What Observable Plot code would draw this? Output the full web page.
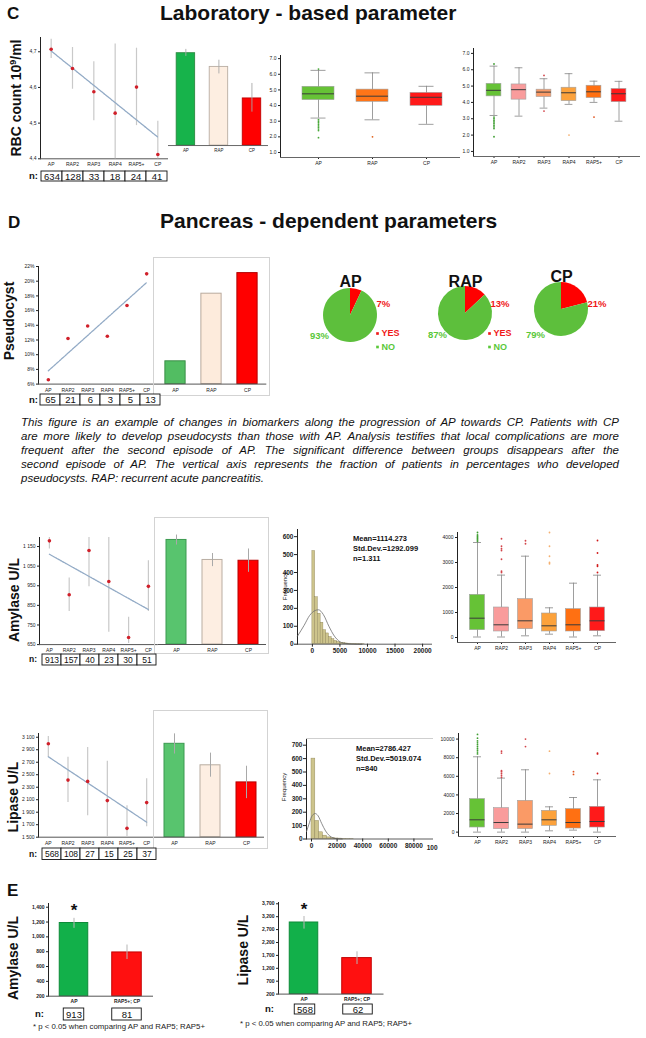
<!DOCTYPE html>
<html>
<head>
<meta charset="utf-8">
<script src="https://cdn.jsdelivr.net/npm/d3@7"></script>
<script src="https://cdn.jsdelivr.net/npm/@observablehq/plot@0.6"></script>
<style>
  html, body { margin: 0; padding: 0; background: #fff; }
  #root { position: relative; width: 646px; height: 1038px; overflow: hidden; background: #fff;
          font-family: "Liberation Sans", Arial, Helvetica, sans-serif; }
  #caption { position: absolute; left: 21px; top: 415px; width: 598px; font-style: italic;
             font-size: 11.5px; line-height: 14px; color: #111; }
  #caption div { text-align: justify; text-align-last: justify; white-space: nowrap; }
  #caption div:last-child { text-align-last: left; }
</style>
</head>
<body>
<div id="root"><div id="caption"></div></div>
<script>
// ================= DATA =================
const stages = ["AP", "RAP2", "RAP3", "RAP4", "RAP5+", "CP"];
const groups = ["AP", "RAP", "CP"];

// C: RBC count
const rbcMean = [4.707, 4.653, 4.588, 4.528, 4.601, 4.412];
const rbcLow  = [4.681, 4.595, 4.507, 4.400, 4.493, 4.400];
const rbcHigh = [4.735, 4.712, 4.672, 4.722, 4.710, 4.505];
const rbcN = [634, 128, 33, 18, 24, 41];
const rbcGroupMean = [4.690, 4.647, 4.548];
const rbcGroupLow  = [4.680, 4.625, 4.505];
const rbcGroupHigh = [4.702, 4.668, 4.595];
const rbcDomain = [4.4, 4.74];
const rbcTicks = [4.4, 4.5, 4.6, 4.7];
// box plots: [lower whisker, Q1, median, Q3, upper whisker]
const rbcGroupBox = [[3.20, 4.35, 4.75, 5.20, 6.25], [3.09, 4.24, 4.60, 5.02, 6.09], [2.80, 3.98, 4.53, 4.81, 5.23]];
const rbcGroupOutliers = [["AP", 6.33], ["AP", 3.1], ["AP", 3.0], ["AP", 2.9], ["AP", 2.8], ["AP", 2.7], ["AP", 2.6], ["AP", 2.5], ["AP", 2.4], ["AP", 1.95], ["RAP", 2.0]];
const rbcStageBox = [[3.20, 4.37, 4.74, 5.14, 6.22], [3.16, 4.17, 4.78, 5.10, 6.12], [3.65, 4.33, 4.63, 4.78, 5.45],
                     [3.88, 4.08, 4.59, 4.90, 5.76], [4.00, 4.27, 4.65, 5.02, 5.30], [2.85, 4.02, 4.53, 4.82, 5.29]];
const rbcStageOutliers = [["AP", 6.35], ["AP", 3.1], ["AP", 3.0], ["AP", 2.9], ["AP", 2.8], ["AP", 2.7], ["AP", 2.6], ["AP", 2.5], ["AP", 2.4], ["AP", 1.9],
                          ["RAP3", 5.65], ["RAP3", 3.47], ["RAP4", 2.0], ["RAP5+", 3.1]];
const rbcBoxTicks = [1, 2, 3, 4, 5, 6, 7];

// D: pseudocyst (%)
const pcPct = [6.6, 12.2, 13.9, 12.5, 16.7, 21.0];
const pcN = [65, 21, 6, 3, 5, 13];
const pcGroupPct = [9.1, 18.3, 21.1];
const pcDomain = [6, 22];
const pcTicks = [6, 8, 10, 12, 14, 16, 18, 20, 22];
const pieYes = [7, 13, 21];

// Amylase U/L
const amyMean = [1179, 904, 1130, 972, 686, 947];
const amyLow  = [1138, 819, 945, 713, 655, 819];
const amyHigh = [1196, 989, 1196, 1196, 789, 1077];
const amyN = [913, 157, 40, 23, 30, 51];
const amyGroupMean = [1183, 1081, 1077];
const amyGroupLow  = [1157, 1047, 1018];
const amyGroupHigh = [1208, 1114, 1137];
const amyDomain = [650, 1196];
const amyTicks = [650, 750, 850, 950, 1050, 1150];
const amyHistBin = 500;
const amyHistCounts = [520, 262, 170, 120, 78, 60, 40, 28, 18, 12, 8, 6, 4, 3, 2, 2, 1, 1, 1];
const amyFitX = [-2700, -1500, -500, 500, 1100, 2000, 3000, 4000, 5000, 6000, 7500, 9000];
const amyFitY = [45, 105, 160, 188, 192, 165, 100, 45, 14, 4, 1, 0];
const amyHistTicksX = [0, 5000, 10000, 15000, 20000];
const amyHistTicksY = [0, 100, 200, 300, 400, 500, 600];
const amyStageBox = [[20, 293, 773, 1708, 3800], [20, 240, 508, 1200, 2496], [67, 333, 667, 1535, 3253],
                     [133, 240, 467, 960, 1188], [20, 240, 508, 1133, 2173], [67, 253, 667, 1200, 2493]];
const amyStageOutliers = [["AP", 3850], ["AP", 3900], ["AP", 3950], ["AP", 4000], ["AP", 4050], ["AP", 4100], ["AP", 4200],
                          ["RAP2", 2600], ["RAP2", 2650], ["RAP2", 3130], ["RAP2", 3480], ["RAP2", 3550], ["RAP2", 3650], ["RAP2", 3950],
                          ["RAP3", 3750], ["RAP3", 3870],
                          ["RAP4", 2950], ["RAP4", 3000], ["RAP4", 3250], ["RAP4", 3650], ["RAP4", 4200],
                          ["CP", 2600], ["CP", 2850], ["CP", 2900], ["CP", 3380], ["CP", 3880]];
const amyBoxTicks = [0, 1000, 2000, 3000, 4000];

// Lipase U/L
const lipMean = [2995, 2414, 2393, 2086, 1642, 2054];
const lipLow  = [2780, 2054, 1843, 1500, 1500, 1669];
const lipHigh = [3110, 2780, 2937, 2715, 2002, 2435];
const lipN = [568, 108, 27, 15, 25, 37];
const lipGroupMean = [2995, 2651, 2377];
const lipGroupLow  = [2831, 2461, 2117];
const lipGroupHigh = [3154, 2846, 2636];
const lipDomain = [1500, 3160];
const lipTicks = [1500, 1700, 1900, 2100, 2300, 2500, 2700, 2900, 3100];
const lipHistBin = 3000;
const lipHistCounts = [600, 135, 50, 25, 12, 7, 4, 3, 2, 1, 1];
const lipFitX = [-3900, -2000, 0, 2800, 5000, 8000, 11000, 14000, 17000, 20000, 24000];
const lipFitY = [55, 110, 165, 190, 175, 115, 60, 25, 8, 2, 0];
const lipHistTicksX = [0, 20000, 40000, 60000, 80000, 100000];
const lipHistTickLabels = ["0", "20000", "40000", "60000", "80000", "100"];
const lipHistTicksY = [0, 100, 200, 300, 400, 500, 600, 700];
const lipStageBox = [[0, 495, 1323, 3548, 8097], [0, 323, 1032, 2580, 5806], [0, 323, 860, 3366, 6699],
                     [140, 677, 1323, 2290, 2720], [215, 387, 1032, 2473, 3720], [0, 495, 1140, 2720, 5624]];
const lipStageOutliers = [["AP", 8400], ["AP", 8600], ["AP", 8800], ["AP", 9000], ["AP", 9200], ["AP", 9400], ["AP", 9600], ["AP", 9800], ["AP", 10100], ["AP", 10500],
                          ["RAP2", 5900], ["RAP2", 6100], ["RAP2", 6300], ["RAP2", 6500], ["RAP2", 6600], ["RAP2", 8500], ["RAP2", 8700],
                          ["RAP3", 9200], ["RAP3", 10000], ["RAP4", 6300], ["RAP4", 8700],
                          ["RAP5+", 6200], ["RAP5+", 6500], ["CP", 6300], ["CP", 8400], ["CP", 8500]];
const lipBoxTicks = [0, 2000, 4000, 6000, 8000, 10000];

// E
const eGroups = ["AP", "RAP5+; CP"];
const eAmyMean = [1187, 790];
const eAmyLow = [1115, 695];
const eAmyHigh = [1250, 890];
const eAmyN = [913, 81];
const eAmyTicks = [200, 400, 600, 800, 1000, 1200, 1400];
const eLipMean = [2975, 1595];
const eLipLow = [2719, 1347];
const eLipHigh = [3207, 1839];
const eLipN = [568, 62];
const eLipTicks = [200, 700, 1200, 1700, 2200, 2700, 3200, 3700];
const eSignificant = ["AP"];

const captionLines = [
  "This figure is an example of changes in biomarkers along the progression of AP towards CP. Patients with CP",
  "are more likely to develop pseudocysts than those with AP. Analysis testifies that local complications are more",
  "frequent after the second episode of AP. The significant difference between groups disappears after the",
  "second episode of AP. The vertical axis represents the fraction of patients in percentages who developed",
  "pseudocysts. RAP: recurrent acute pancreatitis."
];

// ================= STYLE =================
const FONT = '"Liberation Sans", Arial, Helvetica, sans-serif';
const stageFill = {AP: "#66c236", RAP2: "#f99c9c", RAP3: "#fa9a66", RAP4: "#fca23c", "RAP5+": "#ff7012", CP: "#ff1a1a"};
const stageOut = {AP: "#3f9e32", RAP2: "#d2444a", RAP3: "#d2444a", RAP4: "#f5b070", "RAP5+": "#e0501a", CP: "#d01818"};
const groupBoxFill = {AP: "#66c236", RAP: "#ff7518", CP: "#ff1a1a"};
const groupBoxOut = {AP: "#4aa83a", RAP: "#e06018", CP: "#d01818"};
const RED = "#ff0000", GREEN = "#5dbf3c";

const root = document.getElementById("root");

function place(node, left, top, clipW) {
  node.style.position = "absolute";
  if (clipW != null) {
    const wrap = document.createElement("div");
    wrap.style.cssText = `position:absolute;left:${left}px;top:${top}px;width:${clipW}px;height:${node.getAttribute("height")}px;overflow:hidden`;
    node.style.left = "0px"; node.style.top = "0px";
    wrap.appendChild(node); root.appendChild(wrap);
  } else {
    node.style.left = left + "px"; node.style.top = top + "px";
    root.appendChild(node);
  }
  return node;
}

// f = [x0, x1, y0, y1] plot frame in page pixels; pad = margins around it
function framed(f, pad, opts, extra = {}) {
  const [x0, x1, y0, y1] = f;
  const left = x0 - pad.l, top = y0 - pad.t;
  const width = Math.ceil(x1 - x0 + pad.l + pad.r);
  const height = Math.ceil(y1 - y0 + pad.t + pad.b);
  const {xr, style = {}, ...rest} = opts;
  const o = {
    width, height,
    marginLeft: pad.l, marginTop: pad.t,
    marginRight: width - pad.l - (x1 - x0),
    marginBottom: height - pad.t - (y1 - y0),
    color: {type: "identity"},
    ...rest,
    style: {fontFamily: FONT, fontSize: "5px", color: "#222", background: "transparent", overflow: "visible", ...style}
  };
  if (xr) o.x = {...o.x, range: xr.map(v => v - left)};
  const svg = Plot.plot(o);
  if (extra.outline) { svg.style.outline = "1px solid #d3d3d3"; svg.style.outlineOffset = "-1px"; }
  return place(svg, left, top, extra.clipRight != null ? extra.clipRight - left : null);
}

function trendChart(f, pad, vals, lo, hi, yOpt) {
  const rows = stages.map((s, i) => ({i, v: vals[i], lo: lo ? lo[i] : null, hi: hi ? hi[i] : null}));
  const marks = [Plot.ruleY([yOpt.domain[0]], {stroke: "#555", strokeWidth: 1})];
  if (lo) marks.push(Plot.ruleX(rows, {x: "i", y1: "lo", y2: "hi", stroke: "#c9c9c9", strokeWidth: 1.2}));
  marks.push(Plot.linearRegressionY(rows, {x: "i", y: "v", ci: 0, stroke: "#93abc6", strokeWidth: 1.3, strokeDasharray: "1.6 0.9"}));
  marks.push(Plot.dot(rows, {x: "i", y: "v", r: 1.8, fill: "#d0202a"}));
  return framed(f, pad, {
    x: {domain: [-0.5, stages.length - 0.5], ticks: d3.range(stages.length), tickFormat: i => stages[i], tickSize: 0, tickPadding: 4, label: null},
    y: {...yOpt, line: true, tickSize: 2, tickPadding: 2, label: null},
    marks
  });
}

function groupBars(f, pad, vals, lo, hi, yOpt, fills, strokes, barW, extra) {
  const rows = groups.map((g, i) => ({g, v: vals[i], lo: lo ? lo[i] : null, hi: hi ? hi[i] : null}));
  const step = (f[1] - f[0]) / groups.length, ins = (step - barW) / 2;
  const marks = [
    Plot.barY(rows, {x: "g", y1: yOpt.domain[0], y2: "v", fill: d => fills[d.g], stroke: d => strokes[d.g], strokeWidth: 1, insetLeft: ins, insetRight: ins})
  ];
  if (lo) marks.push(Plot.ruleX(rows, {x: "g", y1: "lo", y2: "hi", stroke: "#a9a9a9", strokeWidth: 1}));
  marks.push(Plot.ruleY([yOpt.domain[0]], {stroke: "#555"}));
  return framed(f, pad, {
    x: {type: "band", domain: groups, padding: 0, tickSize: 0, tickPadding: 4, label: null},
    y: {...yOpt, axis: null},
    marks
  }, extra);
}

function boxplot(f, pad, cats, box, outs, fills, outFills, yOpt, xr, boxW, capW) {
  const rows = cats.map((c, i) => ({c, lo: box[i][0], q1: box[i][1], med: box[i][2], q3: box[i][3], hi: box[i][4]}));
  const od = outs.map(([c, v]) => ({c, v}));
  const step = (xr[1] - xr[0]) / cats.length;
  const bi = (step - boxW) / 2, ci = (step - capW) / 2;
  return framed(f, pad, {
    xr,
    x: {type: "band", domain: cats, padding: 0, tickSize: 2, tickPadding: 2, label: null},
    y: {...yOpt, line: true, tickSize: 2, tickPadding: 2, label: null},
    marks: [
      Plot.ruleY([yOpt.domain[0]], {stroke: "#666", strokeWidth: 1}),
      Plot.ruleX(rows, {x: "c", y1: "lo", y2: "hi", stroke: "#858585", strokeWidth: 0.8}),
      Plot.tickY(rows, {x: "c", y: "lo", stroke: "#858585", strokeWidth: 0.8, insetLeft: ci, insetRight: ci}),
      Plot.tickY(rows, {x: "c", y: "hi", stroke: "#858585", strokeWidth: 0.8, insetLeft: ci, insetRight: ci}),
      Plot.barY(rows, {x: "c", y1: "q1", y2: "q3", fill: d => fills[d.c], stroke: "#a0a0a0", strokeWidth: 0.6, insetLeft: bi, insetRight: bi}),
      Plot.tickY(rows, {x: "c", y: "med", stroke: "#3a3a3a", strokeWidth: 1, insetLeft: bi, insetRight: bi}),
      Plot.dot(od, {x: "c", y: "v", r: 0.9, fill: d => outFills[d.c] || "#c33"})
    ]
  });
}

function hist(f, pad, counts, binW, fitX, fitY, xOpt, yOpt, extra = {}, topRule = false) {
  const rows = counts.map((c, i) => ({x1: i * binW, x2: (i + 1) * binW, c}));
  const fit = fitX.map((x, i) => ({x, y: fitY[i]}));
  const marks = [];
  if (topRule) marks.push(Plot.ruleY([yOpt.domain[1]], {stroke: "#cfcfcf", strokeWidth: 1}));
  marks.push(
    Plot.rectY(rows, {x1: "x1", x2: "x2", y1: 0, y2: "c", fill: "#cdc48c", stroke: "#8d8255", strokeWidth: 0.4}),
    Plot.line(fit, {x: "x", y: "y", curve: "monotone-x", stroke: "#6e6e6e", strokeWidth: 0.8}),
    Plot.ruleY([0], {stroke: "#333", strokeWidth: 0.8})
  );
  return framed(f, pad, {
    style: {fontSize: "6.5px", fontWeight: "bold"},
    x: {tickFormat: d3.format("d"), ...xOpt, tickSize: 3, tickPadding: 1, label: null},
    y: {...yOpt, line: true, tickSize: 3, tickPadding: 1, label: null},
    marks
  }, extra);
}

function nRow(f, cats, ns, fs, insets, xr) {
  const rows = cats.map((c, i) => ({c, n: ns[i]}));
  const cells = insets
    ? rows.map((r, i) => Plot.cell([r], {x: "c", fill: "white", stroke: "#111", strokeWidth: 0.9, insetLeft: insets[i], insetRight: insets[i]}))
    : [Plot.cell(rows, {x: "c", fill: "white", stroke: "#111", strokeWidth: 0.9})];
  return framed(f, {l: 1, r: 1, t: 1, b: 1}, {
    xr,
    x: {type: "band", domain: cats, padding: 0, axis: null},
    marks: [...cells, Plot.text(rows, {x: "c", text: d => String(d.n), fontSize: fs, fill: "#111"})]
  });
}

function pieChart(cx, cy, name, yes, lab) {
  const W = 130, H = 100, ox = 65, oy = 45, R = 27;
  const slices = [{k: "YES", v: yes}, {k: "NO", v: 100 - yes}];
  const pieMark = (index, scales) => {
    const sx = scales && typeof scales.x === "function" ? scales.x : v => v + ox;
    const sy = scales && typeof scales.y === "function" ? scales.y : v => v + oy;
    const g = d3.create("svg:g").attr("transform", `translate(${sx(0)},${sy(0)})`);
    const arcs = d3.pie().sort(null).value(d => d.v)(slices);
    g.selectAll("path").data(arcs).join("path")
      .attr("d", d3.arc().innerRadius(0).outerRadius(R))
      .attr("fill", d => d.data.k === "YES" ? RED : GREEN);
    return g.node();
  };
  const marks = [
    pieMark,
    Plot.text([name], {x: 0, y: lab.title, text: d => d, fontSize: 16, fontWeight: "bold", fill: "#111"}),
    Plot.text([slices[0]], {x: lab.yes[0], y: lab.yes[1], text: d => d.v + "%", fontSize: 9.5, fontWeight: "bold", fill: "#f01818", textAnchor: "start"}),
    Plot.text([slices[1]], {x: lab.no[0], y: lab.no[1], text: d => d.v + "%", fontSize: 9.5, fontWeight: "bold", fill: "#5ac83a"})
  ];
  if (lab.legend) {
    const [lx, ly] = lab.legend;
    marks.push(Plot.dot(slices, {x: lx, y: (d, i) => ly + i * 13.5, symbol: "square", r: 1.5, fill: d => d.k === "YES" ? "#f01818" : "#5ac83a"}));
    marks.push(Plot.text(slices, {x: lx + 4, y: (d, i) => ly + i * 13.5, text: "k", textAnchor: "start", fontSize: 9, fontWeight: "bold", fill: d => d.k === "YES" ? "#f01818" : "#5ac83a"}));
  }
  const svg = Plot.plot({
    width: W, height: H, margin: 0,
    x: {domain: [-ox, W - ox], axis: null},
    y: {domain: [H - oy, -oy], axis: null},
    color: {type: "identity"},
    style: {fontFamily: FONT, background: "transparent", overflow: "visible"},
    marks
  });
  return place(svg, cx - ox, cy - oy);
}

const commaDec = d => d.toFixed(1).replace(".", ",");
const spaceThousands = d => d3.format(",")(d).replace(",", " ");
const intFmt = d3.format("d");

// ================= PANEL C =================
trendChart([40, 168, 36.7, 158], {l: 20, r: 0, t: 2, b: 10}, rbcMean, rbcLow, rbcHigh,
  {domain: rbcDomain, ticks: rbcTicks, tickFormat: commaDec});
groupBars([168, 280, 36.7, 158], {l: 0, r: 0, t: 2, b: 10}, rbcGroupMean, rbcGroupLow, rbcGroupHigh,
  {domain: rbcDomain},
  {AP: "#17b34b", RAP: "#fdeee1", CP: "#ff0000"}, {AP: "#2a8a40", RAP: "#b9ada2", CP: "#c00000"}, 21, {clipRight: 268});
nRow([41, 167, 170.5, 180.5], stages, rbcN, 9.5);
boxplot([280, 460, 55, 157], {l: 10, r: 4, t: 2, b: 10}, groups, rbcGroupBox, rbcGroupOutliers, groupBoxFill, groupBoxOut,
  {domain: [0.68, 7.2], ticks: rbcBoxTicks}, [291, 453], 32, 15);
boxplot([473, 640, 48, 156], {l: 10, r: 4, t: 2, b: 10}, stages, rbcStageBox, rbcStageOutliers, stageFill, stageOut,
  {domain: [0.69, 7.3], ticks: rbcBoxTicks}, [480.4, 631.6], 15, 8);

// ================= PANEL D =================
trendChart([38, 156, 266, 383.6], {l: 18, r: 0, t: 3, b: 10}, pcPct, null, null,
  {domain: pcDomain, ticks: pcTicks, tickFormat: d => d + "%"});
groupBars([156, 266.3, 266, 383.6], {l: 3, r: 2.7, t: 9, b: 11.4}, pcGroupPct, null, null,
  {domain: pcDomain},
  {AP: "#52bd62", RAP: "#fdebdc", CP: "#ff0000"}, {AP: "#3a8f46", RAP: "#b9aa9d", CP: "#b30000"}, 21, {outline: true});
nRow([40, 160, 394, 405], stages, pcN, 9.5);
pieChart(350, 315, "AP", pieYes[0], {title: -34, yes: [26, -12], no: [-31, 20.5], legend: [27, 18]});
pieChart(465, 313, "RAP", pieYes[1], {title: -32, yes: [25, -10], no: [-28, 21], legend: [24, 20]});
pieChart(561, 309, "CP", pieYes[2], {title: -33, yes: [26, -6], no: [-26, 25]});

// ================= AMYLASE =================
trendChart([39, 157.8, 536.9, 644], {l: 22, r: 0, t: 2, b: 10}, amyMean, amyLow, amyHigh,
  {domain: amyDomain, ticks: amyTicks, tickFormat: spaceThousands});
groupBars([158, 266, 536.9, 644], {l: 4, r: 3, t: 19.9, b: 9}, amyGroupMean, amyGroupLow, amyGroupHigh,
  {domain: amyDomain},
  {AP: "#58c46e", RAP: "#fdeee2", CP: "#ff0000"}, {AP: "#3b9a50", RAP: "#b9ada2", CP: "#b80000"}, 20, {outline: true});
nRow([39, 158, 653.5, 664.5], stages, amyN, 8.5);
hist([297, 432, 529.3, 644], {l: 16, r: 4, t: 2, b: 12}, amyHistCounts, amyHistBin, amyFitX, amyFitY,
  {domain: [-2700, 21800], ticks: amyHistTicksX}, {domain: [0, 640], ticks: amyHistTicksY});
boxplot([457, 616, 531.7, 641.7], {l: 12, r: 2, t: 2, b: 9}, stages, amyStageBox, amyStageOutliers, stageFill, stageOut,
  {domain: [-200, 4200], ticks: amyBoxTicks, tickFormat: intFmt}, [464.7, 608.7], 15, 8);

// ================= LIPASE =================
trendChart([38, 156, 733, 836.7], {l: 22, r: 0, t: 2, b: 10}, lipMean, lipLow, lipHigh,
  {domain: lipDomain, ticks: lipTicks, tickFormat: spaceThousands});
groupBars([156, 264, 733, 836.7], {l: 3, r: 4, t: 23, b: 11.3}, lipGroupMean, lipGroupLow, lipGroupHigh,
  {domain: lipDomain},
  {AP: "#58c46e", RAP: "#fdeee2", CP: "#ff0000"}, {AP: "#3b9a50", RAP: "#b9ada2", CP: "#b80000"}, 20, {outline: true});
nRow([39, 158, 847.5, 859], stages, lipN, 8.5);
hist([306, 433, 737.5, 838], {l: 16, r: 10, t: 1, b: 12}, lipHistCounts, lipHistBin, lipFitX, lipFitY,
  {domain: [-3900, 95300], ticks: lipHistTicksX.slice(0, 5)}, {domain: [0, 750], ticks: lipHistTicksY}, {}, true);
// last, truncated tick label of the lipase histogram, as in the source figure
framed([306, 433, 838, 846], {l: 16, r: 10, t: 0, b: 0}, {
  x: {domain: [-3900, 95300], axis: null},
  style: {fontSize: "6.5px", fontWeight: "bold"},
  marks: [Plot.text([lipHistTicksX[5]], {x: d => d, frameAnchor: "top", text: () => lipHistTickLabels[5], textAnchor: "end", dx: -2, dy: 7, fill: "#222"})]
});
boxplot([458, 616, 732.7, 835.7], {l: 12, r: 2, t: 2, b: 9}, stages, lipStageBox, lipStageOutliers, stageFill, stageOut,
  {domain: [-470, 10600], ticks: lipBoxTicks, tickFormat: intFmt}, [464.7, 608.7], 15, 8);

// ================= PANEL E =================
function eChart(f, xr, vals, lo, hi, yOpt, nBox, ns) {
  const rows = eGroups.map((g, i) => ({g, v: vals[i], lo: lo[i], hi: hi[i]}));
  const step = (xr[1] - xr[0]) / eGroups.length;
  const ins = [(step - 29) / 2, (step - 30) / 2];
  framed(f, {l: 22, r: 2, t: 4, b: 10}, {
    xr,
    x: {type: "band", domain: eGroups, padding: 0, tickSize: 0, tickPadding: 3, label: null},
    y: {...yOpt, line: true, tickSize: 2, tickPadding: 2, tickFormat: d3.format(","), label: null},
    style: {fontWeight: "bold"},
    marks: [
      ...rows.map((r, i) => Plot.barY([r], {x: "g", y1: yOpt.domain[0], y2: "v",
        fill: i === 0 ? "#12b04a" : "#ff1010", stroke: i === 0 ? "#0d8a39" : "#c40000", strokeWidth: 1, insetLeft: ins[i], insetRight: ins[i]})),
      Plot.ruleX(rows, {x: "g", y1: "lo", y2: "hi", stroke: "#b5b5b5", strokeWidth: 1}),
      Plot.ruleY([yOpt.domain[0]], {stroke: "#555"}),
      Plot.text(rows.filter(d => eSignificant.includes(d.g)), {x: "g", y: "hi", text: () => "*", fontSize: 17, fontWeight: "bold", lineAnchor: "bottom", dy: -2, fill: "#111"})
    ]
  });
  nRow([xr[0], xr[1], nBox[0], nBox[1]], eGroups, ns, 9.5, [(step - 21) / 2, (step - 30) / 2]);
}
eChart([48, 153, 903.3, 996], [46, 153], eAmyMean, eAmyLow, eAmyHigh, {domain: [200, 1450], ticks: eAmyTicks}, [1008, 1020], eAmyN);
eChart([278, 383.5, 901.7, 993.3], [276.75, 383.75], eLipMean, eLipLow, eLipHigh, {domain: [200, 3750], ticks: eLipTicks}, [1004, 1014], eLipN);

// ================= CAPTION =================
const cap = document.getElementById("caption");
captionLines.forEach(s => { const d = document.createElement("div"); d.textContent = s; cap.appendChild(d); });

// ================= TEXT OVERLAY =================
const ov = d3.create("svg").attr("width", 646).attr("height", 1038)
  .attr("style", `position:absolute;left:0;top:0;font-family:${FONT};white-space:pre;overflow:visible;pointer-events:none`);
function T(x, y, s, o = {}) {
  const t = ov.append("text").attr("x", x).attr("y", y).text(s)
    .attr("font-size", o.size || 10).attr("font-weight", o.bold ? "bold" : null)
    .attr("fill", o.fill || "#111").attr("text-anchor", o.anchor || "start");
  if (o.rot) t.attr("transform", `rotate(-90 ${x} ${y})`).attr("text-anchor", "middle");
  return t;
}
T(7, 18.5, "C", {size: 17, bold: true});
T(160, 20, "Laboratory - based parameter", {size: 21, bold: true});
const rbcLabel = T(21, 98, "RBC count 10", {size: 14, bold: true, rot: true});
rbcLabel.append("tspan").attr("dy", -5).attr("font-size", 9).text("9");
rbcLabel.append("tspan").attr("dy", 5).text("/ml");
T(38, 179, "n:", {size: 9.5, bold: true, anchor: "end"});

T(8, 228, "D", {size: 17, bold: true});
T(160, 228, "Pancreas - dependent  parameters", {size: 21, bold: true});
T(14, 321, "Pseudocyst", {size: 14, bold: true, rot: true});
T(38, 403, "n:", {size: 9.5, bold: true, anchor: "end"});

T(19, 600, "Amylase U/L", {size: 14, bold: true, rot: true});
T(37, 662, "n:", {size: 8.5, bold: true, anchor: "end"});
T(287, 586, "Frequency", {size: 6, rot: true});
T(353, 541, "Mean=1114.273", {size: 7.5, bold: true});
T(353, 551, "Std.Dev.=1292.099", {size: 7.5, bold: true});
T(353, 561, "n=1.311", {size: 7.5, bold: true});

T(18, 797, "Lipase U/L", {size: 14, bold: true, rot: true});
T(37, 857, "n:", {size: 8.5, bold: true, anchor: "end"});
T(286, 787, "Frequency", {size: 6, rot: true});
T(356, 751, "Mean=2786.427", {size: 7.5, bold: true});
T(356, 761, "Std.Dev.=5019.074", {size: 7.5, bold: true});
T(356, 771, "n=840", {size: 7.5, bold: true});

T(7, 896, "E", {size: 17, bold: true});
T(18, 958, "Amylase U/L", {size: 14, bold: true, rot: true});
T(35, 1017, "n:", {size: 9.5, bold: true});
T(33, 1029, "* p < 0.05 when comparing AP and RAP5; RAP5+", {size: 7.8, fill: "#222"});
T(248, 950, "Lipase U/L", {size: 14, bold: true, rot: true});
T(265, 1012, "n:", {size: 9.5, bold: true});
T(240, 1026, "* p < 0.05 when comparing AP and RAP5; RAP5+", {size: 7.8, fill: "#222"});
root.appendChild(ov.node());
</script>
</body>
</html>
